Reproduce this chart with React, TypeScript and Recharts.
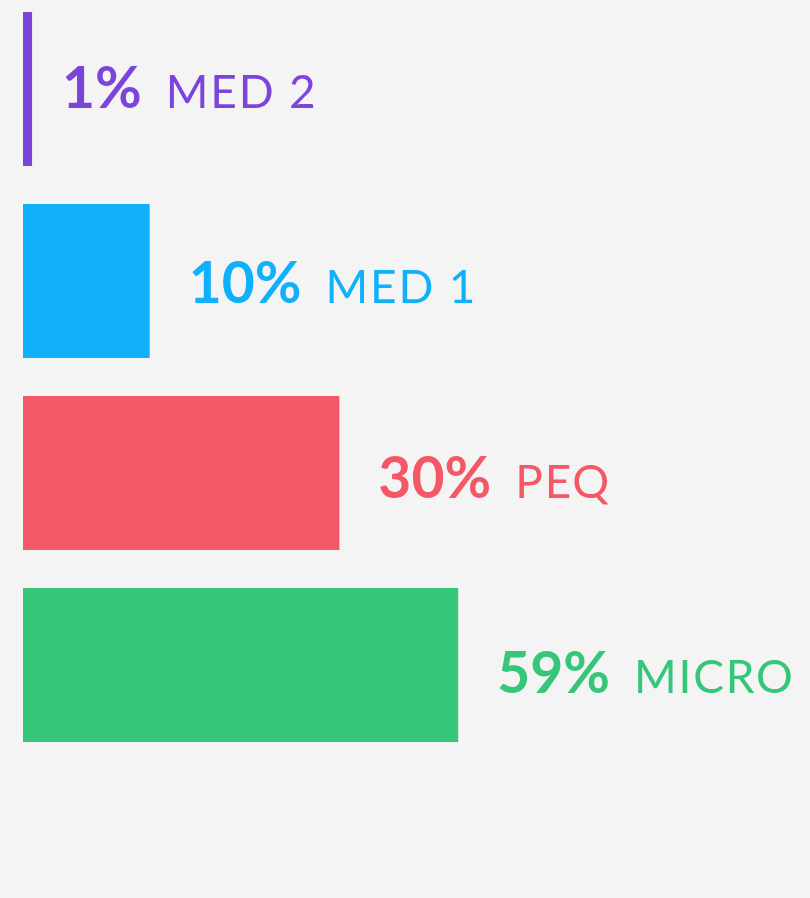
import React from "react";
import { BarChart, Bar, XAxis, YAxis, Cell, LabelList } from "recharts";

// Categories (top to bottom)
const categories = ["MED 2", "MED 1", "PEQ", "MICRO"];
// Share shown in each label (%)
const shares = [1, 10, 30, 59];
// Visual bar length as drawn in the infographic (0-100 scale of the plot width)
const barLengths = [1.15, 16.1, 40.2, 55.3];
// Series colours
const colors = ["#7B44DA", "#11B0FB", "#F45866", "#36C67A"];

const data = categories.map((name, i) => ({
  name,
  share: shares[i],
  len: barLengths[i],
  color: colors[i],
}));

const FONT = "Lato, 'Open Sans', sans-serif";

const renderLabel = (props: any) => {
  const { x, y, width, height, index } = props;
  const i = typeof index === "number" ? index : 0;
  const d = data[i] ?? data[0];
  const lx = Number(x) + (Number(width) > 12 ? Number(width) : 0) + 39;
  const cy = Number(y) + Number(height) / 2;
  return (
    <text x={lx} y={cy + 19 + i * 3} fill={d.color} fontFamily={FONT}>
      <tspan fontWeight={700} fontSize={57}>{`${d.share}%`}</tspan>
      <tspan dx={24} fontWeight={400} fontSize={46} letterSpacing={1.8}>
        {d.name}
      </tspan>
    </text>
  );
};

export default function App() {
  return (
    <>
      <div style={{ position: "fixed", left: 0, top: 0, right: 0, bottom: 0, background: "#F4F4F4", zIndex: -1 }} />
      <div style={{ position: "relative", top: -15, width: 802, height: 768 }}>
        <BarChart
          width={802}
          height={768}
          data={data}
          layout="vertical"
          margin={{ top: 0, right: 0, bottom: 0, left: 15 }}
        >
          <XAxis type="number" domain={[0, 100]} hide />
          <YAxis type="category" dataKey="name" hide />
          <Bar dataKey="len" barSize={154} isAnimationActive={false}>
            {data.map((d, i) => (
              <Cell key={i} fill={d.color} />
            ))}
            <LabelList dataKey="share" content={renderLabel} />
          </Bar>
        </BarChart>
      </div>
    </>
  );
}
